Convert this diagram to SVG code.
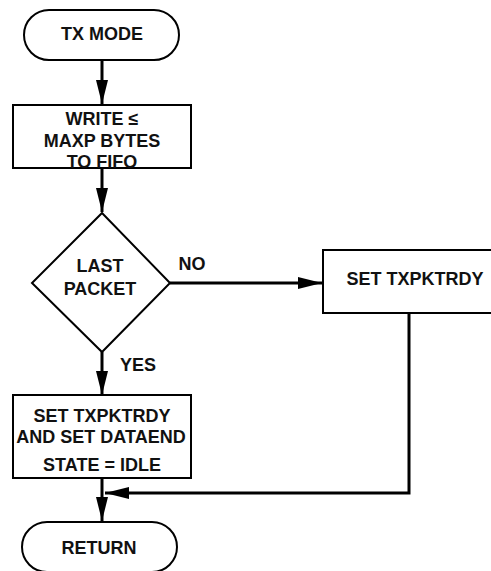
<svg xmlns="http://www.w3.org/2000/svg" width="491" height="571" viewBox="0 0 491 571">
<style>
.shape{fill:#fff;stroke:#000;stroke-width:2}
.conn{fill:none;stroke:#000;stroke-width:3}
text{font-family:"Liberation Sans",Arial,sans-serif;font-weight:bold;font-size:18px;fill:#111;text-anchor:middle}
</style>
<defs>
<marker id="ah" viewBox="0 0 24 12" refX="24" refY="6" markerWidth="24" markerHeight="12" orient="auto" markerUnits="userSpaceOnUse">
<path d="M0,0 L24,6 L0,12 Z" fill="#000"/>
</marker>
</defs>
<g id="connectors">
<line class="conn" x1="102" y1="60" x2="102" y2="104" marker-end="url(#ah)"/>
<line class="conn" x1="102" y1="168" x2="102" y2="212" marker-end="url(#ah)"/>
<line class="conn" x1="170" y1="283" x2="322" y2="283" marker-end="url(#ah)"/>
<line class="conn" x1="102" y1="352" x2="102" y2="395" marker-end="url(#ah)"/>
<polyline class="conn" points="409,313 409,493 105,493" marker-end="url(#ah)"/>
<line class="conn" x1="102" y1="478" x2="102" y2="521" marker-end="url(#ah)"/>
<text x="192" y="270">NO</text>
<text x="138" y="371">YES</text>
</g>
<g id="tx-mode">
<rect class="shape" x="24" y="10" width="155" height="50" rx="25" ry="25"/>
<text x="102" y="40">TX MODE</text>
</g>
<g id="write">
<rect class="shape" x="13" y="105" width="178" height="63"/>
<text x="102" y="125">WRITE ≤</text>
<text x="102" y="147">MAXP BYTES</text>
<text x="102" y="168">TO FIFO</text>
</g>
<g id="last-packet">
<polygon class="shape" points="102,213 170,283 102,352 32,283"/>
<text x="100" y="272">LAST</text>
<text x="100" y="295">PACKET</text>
</g>
<g id="set-txpktrdy">
<rect class="shape" x="323" y="250" width="180" height="63"/>
<text x="415" y="285">SET TXPKTRDY</text>
</g>
<g id="set-dataend">
<rect class="shape" x="13" y="395" width="178" height="83"/>
<text x="102" y="422">SET TXPKTRDY</text>
<text x="101" y="443">AND SET DATAEND</text>
<text x="102" y="471">STATE = IDLE</text>
</g>
<g id="return">
<rect class="shape" x="22" y="522" width="155" height="50" rx="25" ry="25"/>
<text x="99" y="554">RETURN</text>
</g>
</svg>
